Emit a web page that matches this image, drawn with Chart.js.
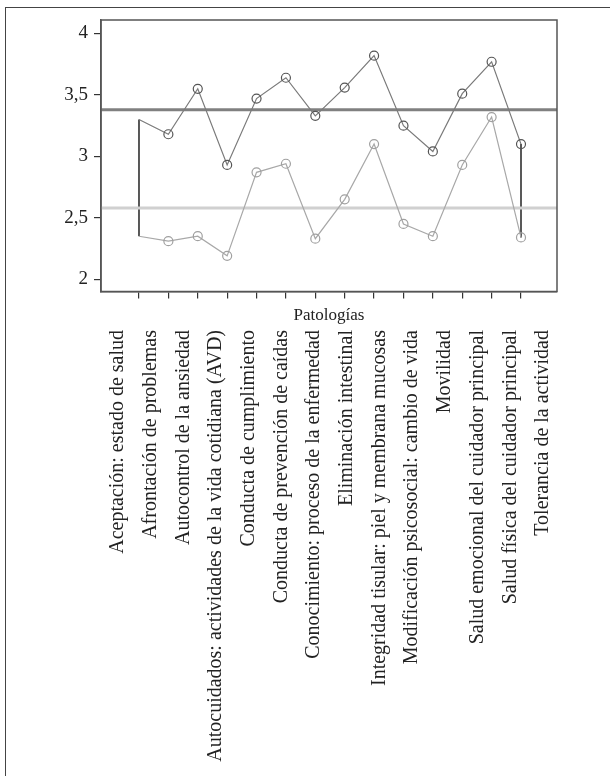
<!DOCTYPE html>
<html>
<head>
<meta charset="utf-8">
<script src="https://cdn.jsdelivr.net/npm/chart.js@4.4.0/dist/chart.umd.min.js"></script>
<style>
  html, body { margin: 0; padding: 0; background: #fff; }
  #wrap { position: relative; width: 610px; height: 776px; overflow: hidden; }
  #frame { position: absolute; left: 5px; top: 7px; width: 640px; height: 820px; border: 1px solid #444; box-sizing: border-box; }
  canvas { position: absolute; left: 0; top: 0; }
</style>
</head>
<body>
<div id="wrap">
  <div id="frame"></div>
  <canvas id="chart" width="610" height="776"></canvas>
</div>
<script>
// Chart data
const categories = [
    'Aceptación: estado de salud',
    'Afrontación de problemas',
    'Autocontrol de la ansiedad',
    'Autocuidados: actividades de la vida cotidiana (AVD)',
    'Conducta de cumplimiento',
    'Conducta de prevención de caídas',
    'Conocimiento: proceso de la enfermedad',
    'Eliminación intestinal',
    'Integridad tisular: piel y membrana mucosas',
    'Modificación psicosocial: cambio de vida',
    'Movilidad',
    'Salud emocional del cuidador principal',
    'Salud física del cuidador principal',
    'Tolerancia de la actividad'
];
const seriesHigh = [3.30, 3.18, 3.55, 2.93, 3.47, 3.64, 3.33, 3.56, 3.82, 3.25, 3.04, 3.51, 3.77, 3.10];
const seriesLow = [2.35, 2.31, 2.35, 2.19, 2.87, 2.94, 2.33, 2.65, 3.10, 2.45, 2.35, 2.93, 3.32, 2.34];
const meanHigh = 3.38;
const meanLow = 2.58;
const yTicks = [2, 2.5, 3, 3.5, 4];
const dropIndexes = [0, 13]; // categories with a vertical line between both series

const FONT = "'Liberation Serif', 'DejaVu Serif', serif";
Chart.defaults.font.family = FONT;
Chart.defaults.color = '#222';

// Build datasets from the arrays above
function toPoints(values) {
    return values.map((v, i) => ({ x: i, y: v }));
}

function flatLine(value) {
    return [{ x: -5, y: value }, { x: 20, y: value }];
}

const datasets = [
    {
        data: toPoints(seriesHigh),
        borderColor: '#7a7a7a',
        borderWidth: 1.2,
        pointRadius: seriesHigh.map((v, i) => i === 0 ? 0 : 4.5),
        pointBorderColor: '#555',
        pointBorderWidth: 1.2,
        pointBackgroundColor: 'rgba(0,0,0,0)'
    },
    {
        data: toPoints(seriesLow),
        borderColor: '#a8a8a8',
        borderWidth: 1.2,
        pointRadius: seriesLow.map((v, i) => i === 0 ? 0 : 4.5),
        pointBorderColor: '#a0a0a0',
        pointBorderWidth: 1.2,
        pointBackgroundColor: 'rgba(0,0,0,0)'
    },
    { data: flatLine(meanHigh), borderColor: '#808080', borderWidth: 3, pointRadius: 0 },
    { data: flatLine(meanLow), borderColor: '#d0d0d0', borderWidth: 3, pointRadius: 0 }
];

dropIndexes.forEach(i => {
    datasets.push({
        data: [{ x: i, y: seriesHigh[i] }, { x: i, y: seriesLow[i] }],
        borderColor: '#222',
        borderWidth: 1.5,
        pointRadius: 0
    });
});

// Box round the plot area
const frameBox = {
    id: 'frameBox',
    afterDraw(chart) {
        const { ctx, chartArea: a } = chart;
        ctx.save();
        ctx.strokeStyle = '#555';
        ctx.lineWidth = 1.5;
        ctx.strokeRect(a.left, a.top, a.right - a.left, a.bottom - a.top);
        ctx.restore();
    }
};

new Chart('chart', {
    type: 'line',
    data: { datasets: datasets },
    plugins: [frameBox],
    options: {
        responsive: false,
        animation: false,
        layout: { padding: { left: 0, top: 20, right: 53, bottom: 0 } },
        plugins: { legend: { display: false }, tooltip: { enabled: false } },
        scales: {
            x: {
                type: 'linear',
                position: 'bottom',
                weight: 0,
                min: -1.293,
                max: 14.225,
                afterBuildTicks: s => { s.ticks = categories.map((c, i) => ({ value: i })); },
                afterFit: s => { s.height = 34.5; },
                grid: { display: true, drawOnChartArea: false, drawTicks: true, tickLength: 7, color: '#333', lineWidth: 1.2 },
                border: { display: true, color: '#555', width: 1.5 },
                ticks: { display: false },
                title: { display: true, text: 'Patologías', font: { size: 17 }, color: '#222', padding: 0 }
            },
            x2: {
                type: 'linear',
                position: 'bottom',
                weight: 1,
                min: -0.52,
                max: 13.43,
                afterBuildTicks: s => { s.ticks = categories.map((c, i) => ({ value: i })); },
                afterFit: s => { s.height = 450; },
                grid: { display: false, drawTicks: false },
                border: { display: false },
                ticks: {
                    autoSkip: false,
                    minRotation: 90,
                    maxRotation: 90,
                    padding: 4,
                    font: { size: 20 },
                    color: '#222',
                    callback: v => categories[v]
                }
            },
            y: {
                type: 'linear',
                min: 1.90,
                max: 4.11,
                afterBuildTicks: s => { s.ticks = yTicks.map(v => ({ value: v })); },
                afterFit: s => { s.width = 101; },
                grid: { display: true, drawOnChartArea: false, tickLength: 7, color: '#333', lineWidth: 1.2 },
                border: { display: true, color: '#555', width: 1.5 },
                ticks: {
                    padding: 6,
                    font: { size: 19 },
                    color: '#222',
                    callback: v => String(v).replace('.', ',')
                }
            }
        }
    }
});
</script>
</body>
</html>
